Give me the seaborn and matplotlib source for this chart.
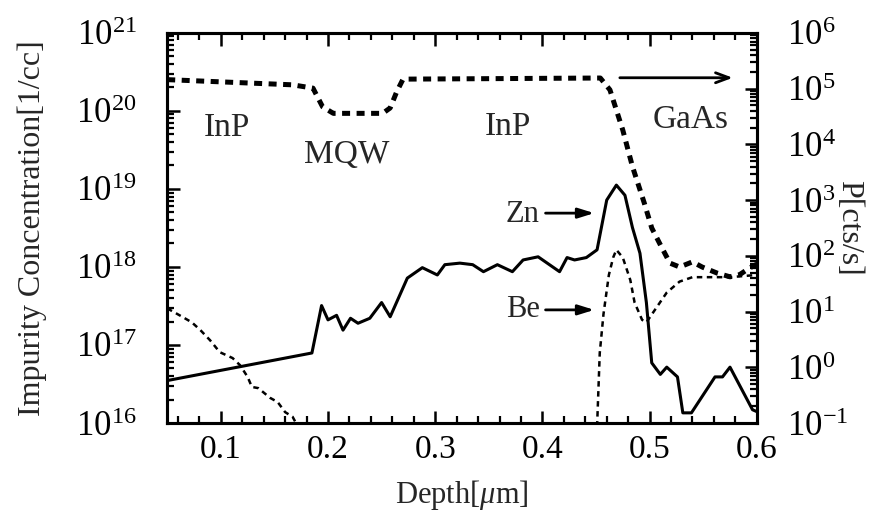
import numpy as np
import pandas as pd
import matplotlib
matplotlib.use("Agg")
import matplotlib.pyplot as plt
import seaborn as sns
from matplotlib.ticker import NullFormatter, FixedLocator

# ---------------- data ----------------
zn_depth = [0.050, 0.185, 0.194, 0.200, 0.208, 0.214, 0.221, 0.228, 0.239, 0.250,
            0.258, 0.274, 0.288, 0.302, 0.309, 0.323, 0.335, 0.345, 0.358, 0.372,
            0.382, 0.396, 0.416, 0.423, 0.430, 0.441, 0.451, 0.460, 0.469, 0.477,
            0.484, 0.491, 0.497, 0.502, 0.510, 0.516, 0.526, 0.531, 0.539, 0.561,
            0.568, 0.575, 0.596, 0.600]
zn_conc = [3.5e16, 7.9e16, 3.2e17, 2.1e17, 2.4e17, 1.55e17, 2.2e17, 1.9e17, 2.2e17, 3.5e17,
           2.3e17, 7.2e17, 9.8e17, 7.9e17, 1.07e18, 1.12e18, 1.07e18, 8.7e17, 1.07e18, 8.7e17,
           1.23e18, 1.35e18, 8.7e17, 1.32e18, 1.23e18, 1.32e18, 1.66e18, 7.2e18, 1.12e19, 8.3e18,
           3.2e18, 1.5e18, 3.5e17, 5.9e16, 4.2e16, 5.2e16, 3.9e16, 1.35e16, 1.35e16, 3.9e16,
           3.9e16, 5.2e16, 1.48e16, 1.4e16]

be_depth_front = [0.050, 0.064, 0.073, 0.081, 0.090, 0.099, 0.111, 0.118, 0.125, 0.129,
                  0.135, 0.146, 0.153, 0.160, 0.167, 0.171]
be_conc_front = [2.95e17, 2.3e17, 1.95e17, 1.55e17, 1.15e17, 8.1e16, 6.8e16, 5.5e16, 3.9e16, 2.9e16,
                 2.8e16, 2.1e16, 1.86e16, 1.38e16, 1.2e16, 0.95e16]

be_depth_peak = [0.451, 0.4535, 0.457, 0.462, 0.466, 0.469, 0.475, 0.482, 0.486, 0.493,
                 0.497, 0.507, 0.516, 0.528, 0.540, 0.559, 0.575, 0.600]
be_conc_peak = [9.0e15, 7.9e16, 2.5e17, 7.9e17, 1.32e18, 1.66e18, 1.32e18, 6.8e17, 3.5e17, 2.1e17,
                1.95e17, 3.1e17, 4.7e17, 6.5e17, 7.4e17, 7.4e17, 7.4e17, 7.9e17]

p_depth = [0.050, 0.167, 0.186, 0.195, 0.205, 0.251, 0.258, 0.264, 0.270, 0.454,
           0.463, 0.475, 0.484, 0.495, 0.502, 0.511, 0.519, 0.528, 0.540, 0.549,
           0.563, 0.575, 0.584, 0.593, 0.600]
p_counts = [1.45e5, 1.17e5, 1.02e5, 4.7e4, 3.6e4, 3.6e4, 4.5e4, 8.7e4, 1.48e5, 1.55e5,
            9.5e4, 1.8e4, 4.0e3, 890, 316, 145, 74, 63, 78, 63,
            49, 42, 46, 60, 71]

left_ticks = [1e16, 1e17, 1e18, 1e19, 1e20, 1e21]
right_ticks = [1e-1, 1e0, 1e1, 1e2, 1e3, 1e4, 1e5, 1e6]
x_ticks = [0.1, 0.2, 0.3, 0.4, 0.5, 0.6]
x_labels = ["0.1", "0.2", "0.3", "0.4", "0.5", "0.6"]

# ---------------- style ----------------
sns.set_theme(style="ticks")
plt.rcParams.update({
    "font.family": ["Liberation Serif", "DejaVu Serif"],
    "mathtext.fontset": "custom",
    "mathtext.rm": "Liberation Serif",
    "mathtext.it": "Liberation Serif:italic",
    "mathtext.bf": "Liberation Serif:bold",
    "axes.linewidth": 2.2,
    "axes.edgecolor": "black",
    "axes.axisbelow": False,
    "xtick.color": "black",
    "ytick.color": "black",
    "xtick.direction": "in",
    "ytick.direction": "in",
    "xtick.top": True,
    "xtick.bottom": True,
    "xtick.major.size": 9,
    "xtick.major.width": 1.8,
    "xtick.minor.size": 5,
    "xtick.minor.width": 1.6,
    "ytick.major.size": 9,
    "ytick.major.width": 1.8,
    "ytick.minor.size": 5,
    "ytick.minor.width": 1.6,
    "xtick.labelsize": 24,
    "ytick.labelsize": 25,
    "xtick.major.pad": 8,
    "ytick.major.pad": 22,
})

fig = plt.figure(figsize=(8.8, 5.14), dpi=100)
ax = fig.add_axes([0.19, 0.177, 0.67, 0.759])
ax2 = ax.twinx()

zn_df = pd.DataFrame({"depth": zn_depth, "conc": zn_conc})
be1_df = pd.DataFrame({"depth": be_depth_front, "conc": be_conc_front})
be2_df = pd.DataFrame({"depth": be_depth_peak, "conc": be_conc_peak})
p_df = pd.DataFrame({"depth": p_depth, "counts": p_counts})

sns.lineplot(data=zn_df, x="depth", y="conc", ax=ax, color="black", lw=2.2,
             estimator=None, sort=False)
for df in (be1_df, be2_df):
    sns.lineplot(data=df, x="depth", y="conc", ax=ax, color="black", lw=1.8,
                 estimator=None, sort=False, linestyle=(0, (2.2, 1.8)))
sns.lineplot(data=p_df, x="depth", y="counts", ax=ax2, color="black", lw=3.6,
             estimator=None, sort=False, linestyle=(0, (1.6, 1.3)))

ax.set_yscale("log")
ax2.set_yscale("log")
ax.set_xlim(0.05, 0.6)

ax.xaxis.set_major_locator(FixedLocator(x_ticks))
ax.set_xticklabels(x_labels)
ax.xaxis.set_minor_locator(FixedLocator(list(np.arange(0.06, 0.601, 0.02))))
ax.yaxis.set_major_locator(FixedLocator(left_ticks))
ax2.yaxis.set_major_locator(FixedLocator(right_ticks))
left_minor = [m * 10.0 ** e for e in range(16, 21) for m in range(2, 10)]
right_minor = [m * 10.0 ** e for e in range(-1, 6) for m in range(2, 10)]
ax.yaxis.set_minor_locator(FixedLocator(left_minor))
ax2.yaxis.set_minor_locator(FixedLocator(right_minor))
ax.yaxis.set_minor_formatter(NullFormatter())
ax2.yaxis.set_minor_formatter(NullFormatter())
ax.set_ylim(1e16, 1e21)
ax2.set_ylim(1e-1, 1e6)

ax.tick_params(axis="y", which="both", left=True, right=False)
ax2.tick_params(axis="y", which="both", right=True, left=False)
ax.tick_params(axis="x", which="both", top=True, bottom=True)

ax.set_xlabel("Depth[$\\mu$m]", fontsize=22)
ax.xaxis.set_label_coords(0.5, -0.185)
ax.xaxis.label.set_va("center")
ax.set_ylabel("Impurity Concentration[1/cc]", fontsize=23)
ax.yaxis.set_label_coords(-0.229, 0.5)
ax.yaxis.label.set_va("center")
ax2.set_ylabel("P[cts/s]", fontsize=23, rotation=270)
ax2.yaxis.set_label_coords(1.155, 0.5)
ax2.yaxis.label.set_va("center")

# region labels
ax.text(0.102, 0.756, "InP", transform=ax.transAxes, fontsize=24, ha="center", va="center")
ax.text(0.305, 0.687, "MQW", transform=ax.transAxes, fontsize=24, ha="center", va="center")
ax.text(0.578, 0.759, "InP", transform=ax.transAxes, fontsize=24, ha="center", va="center")
ax.text(0.888, 0.777, "GaAs", transform=ax.transAxes, fontsize=24, ha="center", va="center")

# annotations with arrows
ax.text(0.632, 0.535, "Zn", transform=ax.transAxes, fontsize=22, ha="right", va="center")
ax.annotate("", xy=(0.729, 0.538), xytext=(0.637, 0.538), xycoords="axes fraction",
            textcoords="axes fraction",
            arrowprops=dict(arrowstyle="-|>,head_length=0.8,head_width=0.25", color="black", lw=2))
ax.text(0.632, 0.29, "Be", transform=ax.transAxes, fontsize=22, ha="right", va="center")
ax.annotate("", xy=(0.729, 0.29), xytext=(0.637, 0.29), xycoords="axes fraction",
            textcoords="axes fraction",
            arrowprops=dict(arrowstyle="-|>,head_length=0.8,head_width=0.25", color="black", lw=2))
ax.annotate("", xy=(0.964, 0.885), xytext=(0.763, 0.885), xycoords="axes fraction",
            textcoords="axes fraction",
            arrowprops=dict(arrowstyle="->,head_length=0.8,head_width=0.3", color="black", lw=2))

fig.canvas.draw()
for a in (ax, ax2):
    for axis in (a.xaxis, a.yaxis):
        for t in axis.get_major_ticks() + axis.get_minor_ticks():
            for ln in (t.tick1line, t.tick2line):
                ln.set_zorder(5)
                ln.set_color("black")
                ln.set_alpha(1)

fig.savefig("out.png", dpi=100)
